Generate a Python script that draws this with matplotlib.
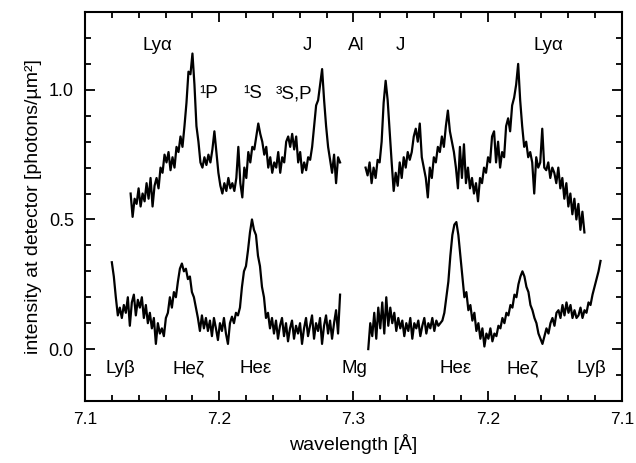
import numpy as np
import matplotlib
matplotlib.use('Agg')
import matplotlib.pyplot as plt
from matplotlib.ticker import MultipleLocator

plt.rcParams['font.family'] = ['Liberation Sans', 'DejaVu Sans']

# Al spectrum (upper trace), left crystal side, wavelength increasing
al_left_range = (7.134, 7.290)
al_left = [0.60, 0.51, 0.58, 0.56, 0.62, 0.55, 0.60, 0.57, 0.64, 0.58,
           0.66, 0.55, 0.63, 0.66, 0.62, 0.70, 0.68, 0.75, 0.72, 0.76,
           0.69, 0.74, 0.70, 0.78, 0.76, 0.82, 0.78, 0.86, 0.95, 1.07,
           1.06, 1.14, 1.02, 0.86, 0.80, 0.72, 0.70, 0.74, 0.71, 0.75,
           0.72, 0.77, 0.84, 0.76, 0.68, 0.63, 0.60, 0.64, 0.61, 0.66,
           0.62, 0.64, 0.61, 0.66, 0.78, 0.64, 0.585, 0.70, 0.66, 0.76,
           0.72, 0.78, 0.77, 0.82, 0.87, 0.83, 0.80, 0.75, 0.78, 0.70,
           0.74, 0.68, 0.72, 0.70, 0.76, 0.68, 0.74, 0.72, 0.80, 0.82,
           0.78, 0.83, 0.77, 0.82, 0.72, 0.76, 0.68, 0.72, 0.69, 0.74,
           0.73, 0.78, 0.86, 0.94, 0.96, 1.02, 1.08, 0.96, 0.86, 0.78,
           0.73, 0.68, 0.75, 0.64, 0.74, 0.72]

# Al spectrum, right crystal side (mirrored), wavelength decreasing
al_right_range = (7.291, 7.128)
al_right = [0.70, 0.67, 0.72, 0.64, 0.70, 0.66, 0.73, 0.72, 0.80, 0.95,
            1.035, 0.96, 0.84, 0.72, 0.61, 0.68, 0.63, 0.72, 0.66, 0.74,
            0.70, 0.76, 0.73, 0.76, 0.82, 0.85, 0.80, 0.87, 0.74, 0.70,
            0.66, 0.585, 0.70, 0.66, 0.74, 0.72, 0.78, 0.76, 0.82, 0.78,
            0.86, 0.92, 0.84, 0.80, 0.76, 0.70, 0.62, 0.78, 0.66, 0.79,
            0.64, 0.70, 0.62, 0.66, 0.60, 0.64, 0.57, 0.66, 0.64, 0.70,
            0.68, 0.74, 0.72, 0.82, 0.84, 0.72, 0.80, 0.70, 0.76, 0.74,
            0.86, 0.89, 0.84, 0.94, 0.97, 1.02, 1.10, 0.96, 0.86, 0.78,
            0.80, 0.74, 0.76, 0.72, 0.60, 0.74, 0.70, 0.72, 0.85, 0.70,
            0.69, 0.72, 0.66, 0.70, 0.68, 0.64, 0.70, 0.62, 0.66, 0.58,
            0.64, 0.55, 0.60, 0.52, 0.58, 0.50, 0.56, 0.46, 0.53, 0.45]

# Mg spectrum (lower trace), left side
mg_left_range = (7.120, 7.290)
mg_left = [0.335, 0.28, 0.20, 0.13, 0.16, 0.12, 0.17, 0.14, 0.20, 0.09,
           0.18, 0.21, 0.13, 0.19, 0.16, 0.20, 0.12, 0.17, 0.10, 0.14,
           0.08, 0.12, 0.02, 0.10, 0.06, 0.08, 0.05, 0.12, 0.14, 0.20,
           0.16, 0.22, 0.20, 0.26, 0.31, 0.33, 0.30, 0.31, 0.27, 0.28,
           0.22, 0.20, 0.16, 0.12, 0.07, 0.13, 0.08, 0.12, 0.07, 0.11,
           0.05, 0.12, 0.08, 0.035, 0.10, 0.07, 0.12, 0.06, 0.02, 0.10,
           0.125, 0.10, 0.14, 0.13, 0.16, 0.24, 0.30, 0.32, 0.38, 0.45,
           0.50, 0.46, 0.44, 0.36, 0.32, 0.24, 0.20, 0.12, 0.14, 0.08,
           0.12, 0.06, 0.11, 0.04, 0.09, 0.12, 0.05, 0.10, 0.03, 0.08,
           0.11, 0.04, 0.09, 0.06, 0.10, 0.02, 0.08, 0.12, 0.05, 0.09,
           0.13, 0.04, 0.10, 0.07, 0.12, 0.02, 0.09, 0.13, 0.06, 0.11,
           0.04, 0.10, 0.15, 0.06, 0.21]

# Mg spectrum, right side (mirrored)
mg_right_range = (7.289, 7.116)
mg_right = [0.00, 0.10, 0.05, 0.14, 0.04, 0.16, 0.08, 0.18, 0.06, 0.20,
            0.09, 0.16, 0.10, 0.14, 0.07, 0.12, 0.08, 0.11, 0.05, 0.10,
            0.07, 0.12, 0.04, 0.10, 0.08, 0.11, 0.05, 0.09, 0.12, 0.06,
            0.10, 0.08, 0.12, 0.07, 0.11, 0.09, 0.10, 0.11, 0.14, 0.20,
            0.26, 0.36, 0.44, 0.48, 0.49, 0.44, 0.36, 0.28, 0.20, 0.22,
            0.15, 0.17, 0.11, 0.14, 0.07, 0.10, 0.04, 0.08, 0.01, 0.06,
            0.04, 0.08, 0.03, 0.06, 0.05, 0.09, 0.08, 0.12, 0.10, 0.14,
            0.13, 0.17, 0.16, 0.21, 0.20, 0.25, 0.28, 0.30, 0.28, 0.24,
            0.22, 0.17, 0.15, 0.12, 0.10, 0.06, 0.04, 0.02, 0.05, 0.08,
            0.06, 0.10, 0.12, 0.09, 0.14, 0.15, 0.12, 0.17, 0.13, 0.18,
            0.14, 0.17, 0.12, 0.15, 0.12, 0.13, 0.16, 0.12, 0.15, 0.14,
            0.18, 0.17, 0.21, 0.24, 0.27, 0.30, 0.34]

# line labels: (text, position on the folded axis, intensity)
top_labels = [('Ly\u03b1', 7.154, 1.17), ('\u00b9P', 7.192, 0.985),
              ('\u00b9S', 7.225, 0.985), ('\u00b3S,P', 7.256, 0.985),
              ('J', 7.266, 1.17), ('Al', 7.302, 1.17),
              ('J', 7.335, 1.17), ('Ly\u03b1', 7.445, 1.17)]
bottom_labels = [('Ly\u03b2', 7.126), ('He\u03b6', 7.177), ('He\u03b5', 7.227),
                 ('Mg', 7.301), ('He\u03b5', 7.376), ('He\u03b6', 7.426),
                 ('Ly\u03b2', 7.477)]

tick_pos = [7.1, 7.2, 7.3, 7.4, 7.5]
tick_text = ['7.1', '7.2', '7.3', '7.2', '7.1']

FOLD = 7.3  # right side is mirrored about 7.3 A


def fold(w):
    return 2 * FOLD - np.asarray(w)


fig = plt.figure(figsize=(6.36, 4.63), dpi=100)
ax = fig.add_axes([0.1336, 0.134, 0.8444, 0.840])

for rng, vals, mirrored in [(al_left_range, al_left, False),
                            (al_right_range, al_right, True),
                            (mg_left_range, mg_left, False),
                            (mg_right_range, mg_right, True)]:
    w = np.linspace(rng[0], rng[1], len(vals))
    x = fold(w) if mirrored else w
    ax.plot(x, vals, color='black', lw=1.6)

for txt, x, y in top_labels:
    ax.text(x, y, txt, ha='center', va='center', fontsize=13.5)
for txt, x in bottom_labels:
    ax.text(x, -0.075, txt, ha='center', va='center', fontsize=13.5)

ax.set_xlim(7.1, 7.5)
ax.set_ylim(-0.2, 1.3)
ax.set_xticks(tick_pos, labels=tick_text)
ax.xaxis.set_minor_locator(MultipleLocator(0.02))
ax.set_yticks([0.0, 0.5, 1.0], labels=['0.0', '0.5', '1.0'])
ax.yaxis.set_minor_locator(MultipleLocator(0.1))

ax.tick_params(which='both', direction='in', top=True, right=True,
               width=1.3)
ax.tick_params(axis='x', labelsize=12.5)
ax.tick_params(axis='y', labelsize=13)
ax.tick_params(which='major', length=7, pad=8)
ax.tick_params(which='minor', length=4)
for s in ax.spines.values():
    s.set_linewidth(1.5)

ax.set_xlabel('wavelength [\u00c5]', fontsize=14, labelpad=5)
ax.set_ylabel('intensity at detector [photons/\u00b5m\u00b2]', fontsize=14,
              labelpad=5)

fig.savefig('out.png', dpi=100)
